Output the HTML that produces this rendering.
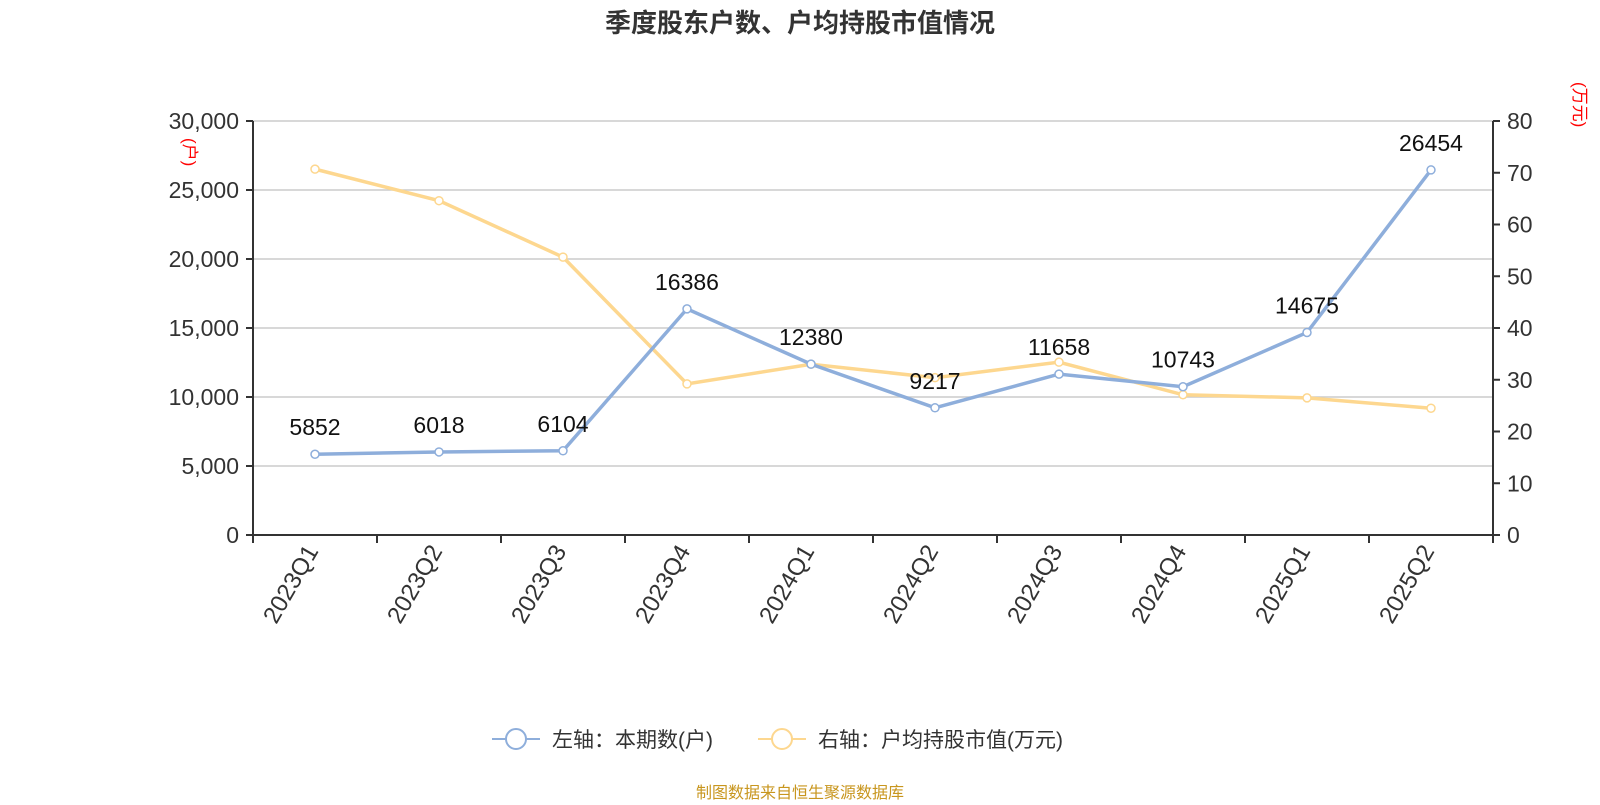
<!DOCTYPE html>
<html><head><meta charset="utf-8"><style>
body{margin:0;background:#fff;width:1600px;height:800px;overflow:hidden;font-family:"Liberation Sans","Noto Sans CJK SC",sans-serif}
</style></head><body>
<svg width="1600" height="800" id="chart" font-family="Liberation Sans, Noto Sans CJK SC, sans-serif">
<text x="800" y="32" text-anchor="middle" font-size="26" font-weight="bold" fill="#333">季度股东户数、户均持股市值情况</text>
<g id="grid"></g><g id="axes"></g><g id="series"></g>
<text transform="translate(184,138) rotate(90)" font-size="17" fill="red">(户)</text>
<text transform="translate(1574,82) rotate(90)" font-size="17" fill="red">(万元)</text>
<g>
<line x1="492" y1="739" x2="540" y2="739" stroke="#8eaedb" stroke-width="2"/>
<circle cx="516" cy="739" r="10" fill="#fff" stroke="#8eaedb" stroke-width="2"/>
<text x="552" y="747" font-size="21" fill="#333">左轴：本期数(户)</text></g>
<g>
<line x1="758" y1="739" x2="806" y2="739" stroke="#fdd78f" stroke-width="2"/>
<circle cx="782" cy="739" r="10" fill="#fff" stroke="#fdd78f" stroke-width="2"/>
<text x="818" y="747" font-size="21" fill="#333">右轴：户均持股市值(万元)</text></g>
<text x="800" y="798" text-anchor="middle" font-size="16" fill="#c8961e">制图数据来自恒生聚源数据库</text>
</svg>
<script>
const categories=["2023Q1","2023Q2","2023Q3","2023Q4","2024Q1","2024Q2","2024Q3","2024Q4","2025Q1","2025Q2"];
const holders=[5852,6018,6104,16386,12380,9217,11658,10743,14675,26454];
const avgValue=[70.7,64.6,53.7,29.2,33,30.4,33.4,27.1,26.5,24.5];
const leftTicks=[0,5000,10000,15000,20000,25000,30000];
const rightTicks=[0,10,20,30,40,50,60,70,80];
const NS="http://www.w3.org/2000/svg";
const X0=253,X1=1493,Y0=535,Y1=121;
const bw=(X1-X0)/categories.length;
const xs=i=>X0+bw*(i+0.5);
const yl=v=>Y0-(v/30000)*(Y0-Y1);
const yr=v=>Y0-(v/80)*(Y0-Y1);
function mk(tag,attrs,parent,text){const e=document.createElementNS(NS,tag);for(const k in attrs)e.setAttribute(k,attrs[k]);if(text!==undefined)e.textContent=text;document.getElementById(parent).appendChild(e);return e;}
leftTicks.forEach(t=>{
 if(t>0){const g=mk('line',{x1:X0,x2:X1,y1:yl(t),y2:yl(t),stroke:'#ccc','stroke-width':1.5},'grid');
 
 }
 mk('line',{x1:X0-7,x2:X0,y1:yl(t),y2:yl(t),stroke:'#333','stroke-width':2},'axes');
 const l=mk('text',{x:X0-14,y:yl(t)+8,'text-anchor':'end','font-size':23,fill:'#333'},'axes',t.toLocaleString('en-US'));
 
 
});
rightTicks.forEach(t=>{
 mk('line',{x1:X1,x2:X1+7,y1:yr(t),y2:yr(t),stroke:'#333','stroke-width':2},'axes');
 const l=mk('text',{x:X1+14,y:yr(t)+8,'font-size':23,fill:'#333'},'axes',String(t));
 
 
});
mk('line',{x1:X0,x2:X0,y1:Y1,y2:Y0+1,stroke:'#333','stroke-width':2},'axes');
mk('line',{x1:X1,x2:X1,y1:Y1,y2:Y0+1,stroke:'#333','stroke-width':2},'axes');
mk('line',{x1:X0,x2:X1,y1:Y0,y2:Y0,stroke:'#333','stroke-width':2},'axes');
for(let i=0;i<=categories.length;i++)mk('line',{x1:X0+bw*i,x2:X0+bw*i,y1:Y0,y2:Y0+8,stroke:'#333','stroke-width':2},'axes');
categories.forEach((c,i)=>{
 const l=mk('text',{transform:`translate(${xs(i)+4},${Y0+16}) rotate(-60)`,'text-anchor':'end','font-size':24,fill:'#333'},'axes',c);
 
 
});
function line(vals,fy,color,name,labels){
 const p=mk('polyline',{points:vals.map((v,i)=>xs(i)+','+fy(v)).join(' '),fill:'none',stroke:color,'stroke-width':3.5},'series');
 
 
 vals.forEach((v,i)=>{
  const c=mk('circle',{cx:xs(i),cy:fy(v),r:4,fill:'#fff',stroke:color,'stroke-width':1.5},'series');
  
  
  if(labels){const t=mk('text',{x:xs(i),y:fy(v)-19,'text-anchor':'middle','font-size':23,fill:'#111'},'series',String(v));
  
  }
 });
}
line(avgValue,yr,'#fdd78f','avg-value',false);
line(holders,yl,'#8eaedb','holders',true);
</script>
</body></html>
